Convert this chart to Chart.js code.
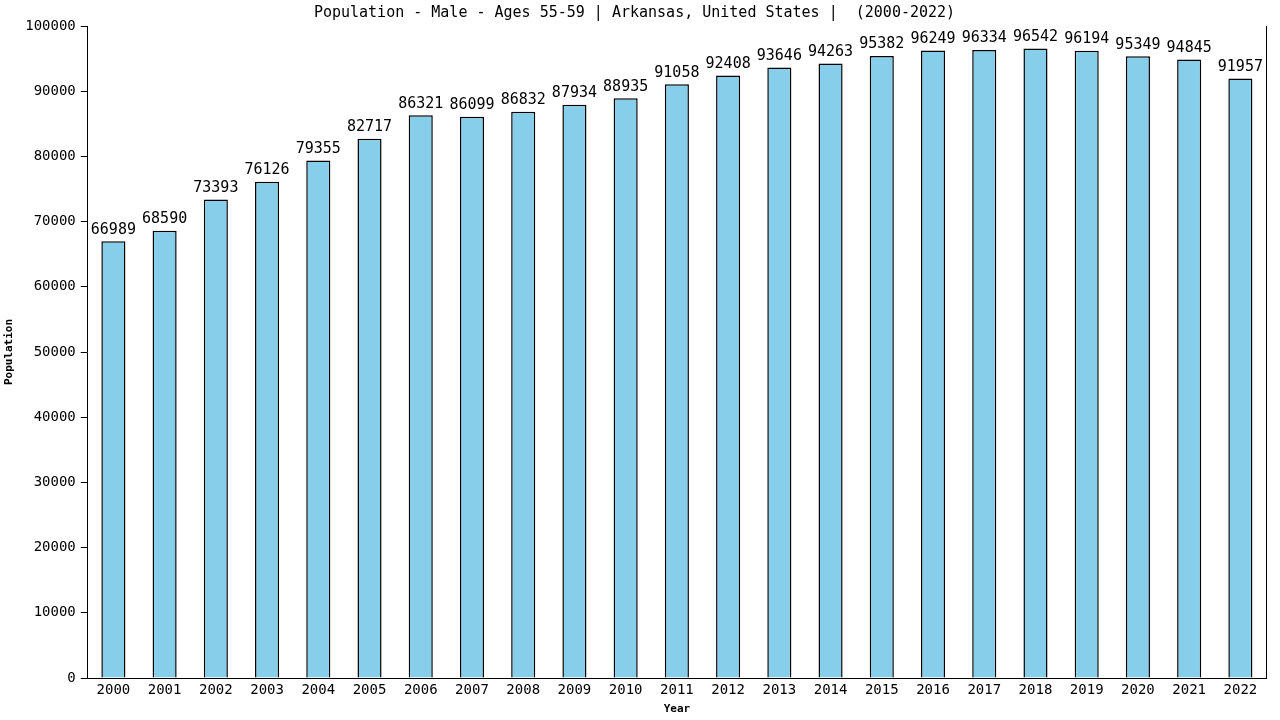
<!DOCTYPE html>
<html>
<head>
<meta charset="utf-8">
<script src="https://cdn.jsdelivr.net/npm/chart.js@4.4.0/dist/chart.umd.min.js"></script>
<style>
  html, body { margin: 0; padding: 0; background: #fff; }
  #wrap { width: 1280px; height: 720px; }
</style>
</head>
<body>
<div id="wrap"><canvas id="graphCanvas"></canvas></div>
<script>
// values
var years = ['2000', '2001', '2002', '2003', '2004', '2005', '2006', '2007', '2008', '2009', '2010', '2011',
             '2012', '2013', '2014', '2015', '2016', '2017', '2018', '2019', '2020', '2021', '2022'];
var population = [66989, 68590, 73393, 76126, 79355, 82717, 86321, 86099, 86832, 87934, 88935, 91058,
                  92408, 93646, 94263, 95382, 96249, 96334, 96542, 96194, 95349, 94845, 91957];
var yTicks = [0, 10000, 20000, 30000, 40000, 50000, 60000, 70000, 80000, 90000, 100000];

var mono = "'DejaVu Sans Mono', 'Liberation Mono', monospace";

// write the value over each bar
var valueLabels = {
    id: 'valueLabels',
    afterDatasetsDraw: function(chart) {
        var ctx = chart.ctx;
        var meta = chart.getDatasetMeta(0);
        ctx.save();
        ctx.font = '15px ' + mono;
        ctx.fillStyle = '#000';
        ctx.textAlign = 'center';
        ctx.textBaseline = 'bottom';
        meta.data.forEach(function(bar, i) {
            ctx.fillText(String(population[i]), bar.x, bar.y - 4);
        });
        ctx.restore();
    }
};

// thin frame line on the right side of the plot
var rightEdge = {
    id: 'rightEdge',
    afterDraw: function(chart) {
        var a = chart.chartArea;
        var ctx = chart.ctx;
        ctx.save();
        ctx.strokeStyle = '#000';
        ctx.lineWidth = 1;
        ctx.beginPath();
        ctx.moveTo(Math.round(a.right) + 0.5, a.top);
        ctx.lineTo(Math.round(a.right) + 0.5, a.bottom);
        ctx.stroke();
        ctx.restore();
    }
};

var chartdata = {
    labels: years,
    datasets: [{
        label: 'Population',
        backgroundColor: '#87CEEB',
        borderColor: '#000000',
        borderWidth: 1.5,
        categoryPercentage: 1.0,
        barPercentage: 0.47,
        data: population
    }]
};

var barGraph = new Chart(document.getElementById('graphCanvas'), {
    type: 'bar',
    data: chartdata,
    plugins: [valueLabels, rightEdge],
    options: {
        responsive: true,
        maintainAspectRatio: false,
        animation: false,
        layout: { padding: { left: 3, right: 14, top: 0, bottom: 0 } },
        plugins: {
            legend: { display: false },
            tooltip: { enabled: false },
            title: {
                display: true,
                text: 'Population - Male - Ages 55-59 | Arkansas, United States |  (2000-2022)',
                color: '#000',
                font: { family: mono, size: 15, weight: 'normal' },
                padding: { top: 4, bottom: 4 }
            }
        },
        scales: {
            x: {
                grid: { display: false, drawTicks: false },
                border: { display: true, color: '#000', width: 1 },
                ticks: {
                    color: '#000',
                    padding: 4,
                    maxRotation: 0,
                    autoSkip: false,
                    font: { family: mono, size: 14 }
                },
                title: {
                    display: true,
                    text: 'Year',
                    color: '#000',
                    font: { family: mono, size: 11, weight: 'bold' },
                    padding: { top: 0, bottom: 4 }
                }
            },
            y: {
                min: 0,
                max: 100000,
                afterBuildTicks: function(axis) {
                    axis.ticks = yTicks.map(function(v) { return { value: v }; });
                },
                grid: {
                    drawOnChartArea: false,
                    drawTicks: true,
                    tickLength: 7,
                    color: '#000'
                },
                border: { display: true, color: '#000', width: 1 },
                ticks: {
                    color: '#000',
                    padding: 5,
                    font: { family: mono, size: 14 },
                    callback: function(v) { return String(v); }
                },
                title: {
                    display: true,
                    text: 'Population',
                    color: '#000',
                    font: { family: mono, size: 11, weight: 'bold' },
                    padding: { top: 0, bottom: 4 }
                }
            }
        }
    }
});
</script>
</body>
</html>
